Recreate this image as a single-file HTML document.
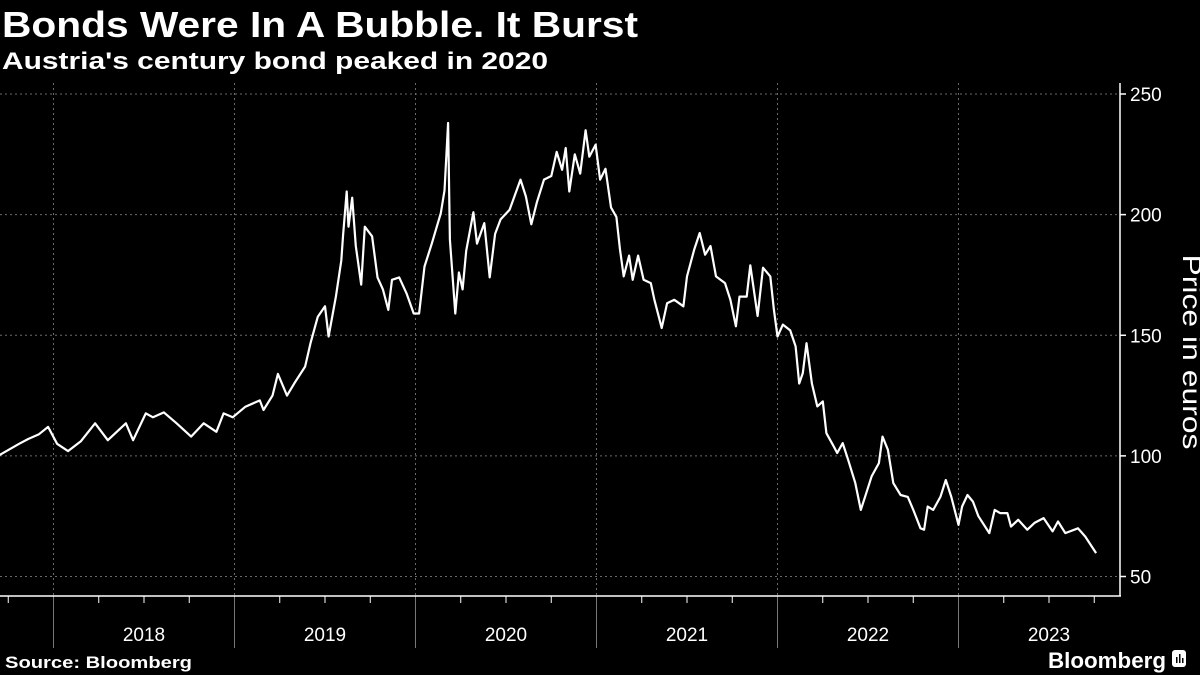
<!DOCTYPE html>
<html><head><meta charset="utf-8"><style>
html,body{margin:0;padding:0;background:#000;width:1200px;height:675px;overflow:hidden}
svg{display:block}
text{font-family:"Liberation Sans",sans-serif;fill:#fff}
</style></head><body>
<svg id="chart" width="1200" height="675">
<text x="2" y="37" font-size="36" font-weight="bold" textLength="636" lengthAdjust="spacingAndGlyphs">Bonds Were In A Bubble. It Burst</text>
<text x="2" y="69" font-size="24" font-weight="bold" textLength="546" lengthAdjust="spacingAndGlyphs">Austria's century bond peaked in 2020</text>
<text x="1183" y="352" font-size="26" text-anchor="middle" textLength="195" lengthAdjust="spacingAndGlyphs" transform="rotate(90 1183 352)" fill="#ddd">Price in euros</text>
<text x="5" y="668" font-size="17" font-weight="bold" textLength="187" lengthAdjust="spacingAndGlyphs">Source: Bloomberg</text>
<text x="1166" y="668" font-size="22" font-weight="bold" text-anchor="end" textLength="118" lengthAdjust="spacingAndGlyphs">Bloomberg</text>
<g><rect x="1172" y="650" width="14" height="17" rx="3" fill="#fff"/><rect x="1176" y="657" width="1.5" height="6" fill="#000"/><rect x="1179" y="654" width="1.5" height="9" fill="#000"/><rect x="1182" y="658" width="1.5" height="5" fill="#000"/></g>
<g id="grid"></g><g id="axes"></g><g id="series"></g>
</svg>
<script>
const yTicks=[50,100,150,200,250];
const yearLabels=["2018","2019","2020","2021","2022","2023"];
const dates=[2017.70,2017.81,2017.86,2017.92,2017.97,2018.02,2018.08,2018.15,2018.23,2018.30,2018.40,2018.44,2018.51,2018.55,2018.61,2018.68,2018.76,2018.83,2018.90,2018.94,2018.99,2019.06,2019.14,2019.16,2019.21,2019.24,2019.29,2019.33,2019.39,2019.42,2019.46,2019.50,2019.52,2019.56,2019.59,2019.60,2019.62,2019.63,2019.65,2019.67,2019.70,2019.72,2019.76,2019.79,2019.82,2019.85,2019.87,2019.91,2019.95,2019.99,2020.02,2020.05,2020.09,2020.14,2020.16,2020.18,2020.19,2020.22,2020.24,2020.26,2020.28,2020.32,2020.34,2020.38,2020.41,2020.44,2020.47,2020.52,2020.58,2020.61,2020.64,2020.67,2020.71,2020.75,2020.78,2020.81,2020.83,2020.85,2020.88,2020.91,2020.94,2020.96,2020.995,2021.02,2021.05,2021.08,2021.11,2021.13,2021.15,2021.18,2021.20,2021.23,2021.26,2021.30,2021.32,2021.36,2021.39,2021.43,2021.48,2021.50,2021.54,2021.57,2021.60,2021.63,2021.66,2021.71,2021.74,2021.77,2021.79,2021.83,2021.85,2021.89,2021.92,2021.96,2021.98,2022.00,2022.03,2022.07,2022.10,2022.12,2022.14,2022.16,2022.19,2022.22,2022.25,2022.27,2022.31,2022.33,2022.36,2022.39,2022.43,2022.46,2022.49,2022.52,2022.56,2022.58,2022.61,2022.64,2022.68,2022.72,2022.75,2022.79,2022.81,2022.83,2022.86,2022.90,2022.93,2022.96,2023.00,2023.02,2023.05,2023.08,2023.11,2023.17,2023.20,2023.23,2023.27,2023.29,2023.33,2023.38,2023.42,2023.47,2023.52,2023.55,2023.59,2023.66,2023.70,2023.76];
const prices=[100.3,105,107,109,112,105,102,106,113.5,106.5,113.5,106.5,117.6,116,118,113.5,108,113.5,110,117.6,116,120.4,123,119,125,134,125,130,137,146.7,157.7,162,149.5,166,181,191.6,209.6,195,207,187,171,195,191,174,169,160.5,173,174,167.4,159,159,178.5,188,200.6,210,238,189.6,159,176,169,185,201,188,196.5,174,192,198,202,214.5,207.5,196,205,214.5,216,226,218.6,227.6,209.6,225,217,235,224,229,214.5,219,203,199,185.5,174.4,183,173,183,173,171.6,164.7,153,163.3,164.7,162,174.4,185.5,192.4,183.4,187,174.4,171.6,164.7,153.7,166,166,179,158,178,174.4,160.6,149.5,154.4,152,145.4,130,134.3,146.7,130,120.5,122.6,109.4,104,101.2,105.3,98.4,88.7,77.6,84.5,91.5,97,108,102.5,88.7,83.8,83,77.6,70,69.4,79,77.6,83,90,83,71.4,79,83.8,81,75,68,77.6,76.3,76.3,70.7,73.5,69.4,72.2,74.2,68.7,72.8,68,70,66.6,59.7];
const NS="http://www.w3.org/2000/svg";
function xS(t){return 53.5+(t-2018)*181;}
function yS(v){return 94+(250-v)*2.4125;}
function mk(tag,attrs,parent){const e=document.createElementNS(NS,tag);for(const k in attrs)e.setAttribute(k,attrs[k]);parent.appendChild(e);return e;}
const grid=document.getElementById('grid'),axes=document.getElementById('axes'),series=document.getElementById('series');
yTicks.forEach(v=>{
  const l=mk('line',{x1:0,x2:1120,y1:yS(v),y2:yS(v),stroke:'#6a6a6a','stroke-width':1,'stroke-dasharray':'2,3'},grid);
  
  
  mk('line',{x1:1120,x2:1126,y1:yS(v),y2:yS(v),stroke:'#fff','stroke-width':1.5},axes);
  const t=mk('text',{x:1130,y:yS(v)+7,'font-size':19,fill:'#ddd'},axes);t.textContent=v;
  
  
});
yearLabels.forEach((y,i)=>{
  const yr=+y;const x=xS(yr);
  const l=mk('line',{x1:x,x2:x,y1:83,y2:596,stroke:'#6a6a6a','stroke-width':1,'stroke-dasharray':'2,3'},grid);
  
  
  mk('line',{x1:x,x2:x,y1:596,y2:648,stroke:'#777','stroke-width':1},axes);
  for(let q=1;q<4;q++){const qx=xS(yr+q/4);if(qx<1118)mk('line',{x1:qx,x2:qx,y1:596,y2:603,stroke:'#fff','stroke-width':1},axes);}
  const t=mk('text',{x:xS(yr+0.5),y:641,'font-size':19,'text-anchor':'middle',fill:'#ddd'},axes);t.textContent=y;
  
  
});
mk('line',{x1:xS(2017.75),x2:xS(2017.75),y1:596,y2:603,stroke:'#fff','stroke-width':1},axes);
mk('line',{x1:0,x2:1121,y1:596,y2:596,stroke:'#fff','stroke-width':1.5},axes);
mk('line',{x1:1120,x2:1120,y1:83,y2:596,stroke:'#fff','stroke-width':1.5},axes);
const d=dates.map((t,i)=>(i?'L':'M')+xS(t).toFixed(1)+','+yS(prices[i]).toFixed(1)).join(' ');
const p=mk('path',{d:d,fill:'none',stroke:'#fff','stroke-width':2.2,'stroke-linejoin':'round'},series);


</script>
</body></html>
